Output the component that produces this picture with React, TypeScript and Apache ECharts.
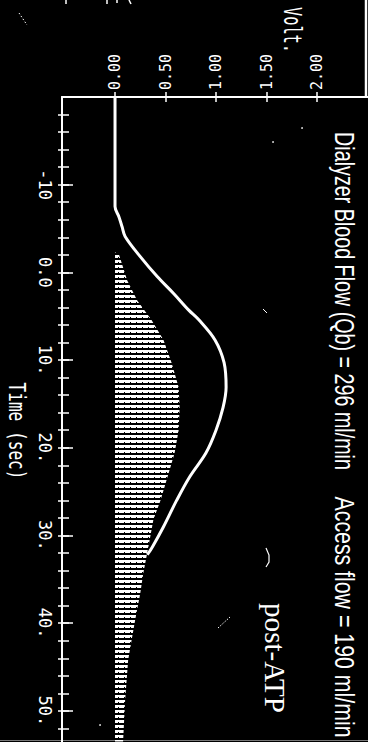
import React, { useEffect, useRef } from 'react';
import * as echarts from 'echarts';

// Outer curve (white trace), time in seconds / volts
const outerTime = [-20, -7.5, -6.3, -5.2, -4.1, -1.8, 0.5, 2.4, 4.3, 5.4, 7.7, 10.3, 13.1, 15.4, 18.0, 20.6, 23.3, 26.0, 29.0, 31.3, 32.2];
const outerVolt = [0, 0, 0.04, 0.07, 0.1, 0.25, 0.42, 0.58, 0.73, 0.83, 0.99, 1.08, 1.1, 1.07, 1.0, 0.9, 0.74, 0.61, 0.48, 0.37, 0.32];

// Inner hatched curve
const innerTime = [-2.3, -2.0, 0.9, 3.2, 5.4, 7.7, 10.3, 13.1, 15.4, 18.0, 20.6, 23.7, 26.0, 28.2, 31.3, 34.3, 36.6, 39.6, 41.9, 44.2, 48.8, 53.5];
const innerVolt = [0, 0.04, 0.12, 0.22, 0.36, 0.48, 0.56, 0.63, 0.64, 0.63, 0.59, 0.51, 0.45, 0.38, 0.33, 0.28, 0.25, 0.2, 0.165, 0.13, 0.1, 0.08];

const voltTicks = [0, 0.5, 1, 1.5, 2];
const voltTickLabels = ['0.00', '0.50', '1.00', '1.50', '2.00'];
const timeTicks = [-10, 0, 10, 20, 30, 40, 50];
const timeTickLabels = ['-10', '0.0', '10.', '20.', '30.', '40.', '50.'];
const timeMinorTicks = [-18, -16, -14, -12, -10, -8, -6, -4, -2, 0, 2, 4, 6, 8, 10, 12, 14, 16, 18, 20, 22, 24, 26, 28, 30, 32, 34, 36, 38, 40, 42, 44, 46, 48, 50, 52];

const titleLeft = 'Dialyzer Blood Flow (Qb) = 296 ml/min';
const titleRight = 'Access flow = 190 ml/min';
const voltName = 'Volt.';
const timeName = 'Time (sec)';
const noteText = 'post-ATP';

const TIME_MIN = -20;
const TIME_MAX = 53.55;
const VOLT_MIN = -0.525;
const VOLT_MAX = 2.505;

function labelFor(values: number[], labels: string[]) {
  return (v: number) => {
    const i = values.findIndex((t) => Math.abs(t - v) < 1e-6);
    return i >= 0 ? labels[i] : '';
  };
}

let measureCtx: CanvasRenderingContext2D | null = null;
function measure(text: string, size: number, family: string, weight: string) {
  if (!measureCtx) measureCtx = document.createElement('canvas').getContext('2d');
  measureCtx!.font = `${weight} ${size}px ${family}`;
  return measureCtx!.measureText(text).width;
}

function vText(text: string, cx: number, cy: number, len: number, family: string, size: number, weight = 'normal') {
  const w = measure(text, size, family, weight);
  return {
    type: 'text',
    x: cx,
    y: cy,
    rotation: -Math.PI / 2,
    scaleX: len / w,
    scaleY: 1,
    silent: true,
    style: {
      text,
      fill: '#fff',
      fontSize: size,
      fontFamily: family,
      fontWeight: weight,
      align: 'center',
      verticalAlign: 'middle',
    },
  };
}

export default function App() {
  const ref = useRef<HTMLDivElement>(null);
  useEffect(() => {
    document.body.style.margin = '0';
    document.body.style.background = '#000';
    const chart = echarts.init(ref.current!, null, { renderer: 'svg' });

    const pat = document.createElement('canvas');
    pat.width = 6;
    pat.height = 5;
    const pctx = pat.getContext('2d')!;
    pctx.fillStyle = '#fff';
    pctx.fillRect(0, 0, 6, 3);
    pctx.clearRect(4, 2, 1, 1);
    const hatch: any = { image: pat, repeat: 'repeat', imageWidth: 6, imageHeight: 5 };

    const white = '#fff';
    const mono = "'DejaVu Sans Mono', 'Liberation Mono', monospace";
    const sans = "'Liberation Sans', sans-serif";
    const serif = "'Liberation Serif', 'DejaVu Serif', serif";
    const tickStyle = { color: white, width: 1.5 };

    const baseX = { type: 'value', position: 'top', min: VOLT_MIN, max: VOLT_MAX, splitLine: { show: false } };
    const baseY = { type: 'value', position: 'left', inverse: true, min: TIME_MIN, max: TIME_MAX, splitLine: { show: false } };

    chart.setOption({
      animation: false,
      backgroundColor: '#000',
      grid: { left: 62, right: 0, top: 97, bottom: 0, containLabel: false, outerBoundsMode: 'none' },
      xAxis: [
        {
          ...baseX,
          axisLine: { show: true, onZero: false, lineStyle: { color: white, width: 2 } },
          axisTick: { show: true, inside: false, length: 5, customValues: voltTicks, lineStyle: tickStyle },
          axisLabel: {
            show: true,
            customValues: voltTicks,
            rotate: -90,
            margin: 7,
            color: white,
            fontFamily: mono,
            fontSize: 15,
            formatter: labelFor(voltTicks, voltTickLabels),
          },
        },
        {
          ...baseX,
          axisLine: { show: false, onZero: false },
          axisTick: { show: true, inside: true, length: 5, customValues: voltTicks, lineStyle: tickStyle },
          axisLabel: { show: false },
        },
      ],
      yAxis: [
        {
          ...baseY,
          axisLine: { show: true, onZero: false, lineStyle: { color: white, width: 2 } },
          axisTick: { show: true, inside: false, length: 4, customValues: timeMinorTicks, lineStyle: tickStyle },
          axisLabel: {
            show: true,
            customValues: timeTicks,
            rotate: -90,
            margin: 9,
            color: white,
            fontFamily: mono,
            fontSize: 17,
            formatter: labelFor(timeTicks, timeTickLabels),
          },
        },
        {
          ...baseY,
          axisLine: { show: false, onZero: false },
          axisTick: { show: true, inside: true, length: 7, customValues: timeMinorTicks, lineStyle: tickStyle },
          axisLabel: { show: false },
        },
        {
          ...baseY,
          axisLine: { show: false, onZero: false },
          axisTick: { show: true, inside: true, length: 11, customValues: timeTicks, lineStyle: tickStyle },
          axisLabel: { show: false },
        },
      ],
      series: [
        {
          type: 'custom',
          xAxisIndex: 0,
          yAxisIndex: 0,
          silent: true,
          data: innerTime.map((t, i) => [innerVolt[i], t]),
          renderItem: (params: any, api: any) => {
            if (params.dataIndex !== 0) return null;
            const pts = innerTime.map((t, i) => api.coord([innerVolt[i], t]));
            const first = api.coord([0, innerTime[0]]);
            const last = api.coord([0, innerTime[innerTime.length - 1]]);
            return {
              type: 'polygon',
              shape: { points: [first, ...pts, last] },
              style: { fill: hatch, stroke: null },
            };
          },
        },
        {
          type: 'line',
          xAxisIndex: 0,
          yAxisIndex: 0,
          data: outerTime.map((t, i) => [outerVolt[i], t]),
          showSymbol: false,
          smooth: 0.35,
          silent: true,
          lineStyle: { color: white, width: 3 },
        },
      ],
      graphic: [
        vText(titleLeft, 345, 301, 338, sans, 28),
        vText(titleRight, 345, 617, 241, sans, 28),
        vText(voltName, 292, 30, 46, mono, 24),
        vText(timeName, 17, 431, 97, mono, 23),
        vText(noteText, 275, 658, 110, serif, 30),
        // border / scan artifacts
        { type: 'line', silent: true, shape: { x1: 366, y1: 0, x2: 366, y2: 97 }, style: { stroke: white, lineWidth: 2.5 } },
        { type: 'line', silent: true, shape: { x1: 0, y1: 740.5, x2: 368, y2: 740.5 }, style: { stroke: '#777', lineWidth: 1 } },
        { type: 'line', silent: true, shape: { x1: 66, y1: 0, x2: 66, y2: 4 }, style: { stroke: white, lineWidth: 1.5 } },
        { type: 'line', silent: true, shape: { x1: 107, y1: 0, x2: 107, y2: 4 }, style: { stroke: white, lineWidth: 1.5 } },
        { type: 'line', silent: true, shape: { x1: 117, y1: 0, x2: 117, y2: 3 }, style: { stroke: white, lineWidth: 1.5 } },
        { type: 'line', silent: true, shape: { x1: 129, y1: 0, x2: 131, y2: 4 }, style: { stroke: white, lineWidth: 1.5 } },
        { type: 'line', silent: true, shape: { x1: 19, y1: 13, x2: 27, y2: 25 }, style: { stroke: white, lineWidth: 1, lineDash: [1.5, 2] } },
        { type: 'circle', silent: true, shape: { cx: 302, cy: 128, r: 0.8 }, style: { fill: white } },
        { type: 'circle', silent: true, shape: { cx: 273, cy: 142, r: 0.8 }, style: { fill: white } },
        { type: 'line', silent: true, shape: { x1: 263, y1: 309, x2: 267, y2: 313 }, style: { stroke: white, lineWidth: 1 } },
        { type: 'polyline', silent: true, shape: { points: [[266, 548], [269, 555], [269, 562], [266, 567]] }, style: { stroke: white, lineWidth: 1.2, fill: null } },
        { type: 'line', silent: true, shape: { x1: 218, y1: 628, x2: 230, y2: 617 }, style: { stroke: white, lineWidth: 1, lineDash: [1.5, 1.5] } },
        { type: 'circle', silent: true, shape: { cx: 100, cy: 725, r: 0.8 }, style: { fill: white } },
      ],
    });
    return () => chart.dispose();
  }, []);
  return <div ref={ref} style={{ width: 368, height: 742, background: '#000' }} />;
}
